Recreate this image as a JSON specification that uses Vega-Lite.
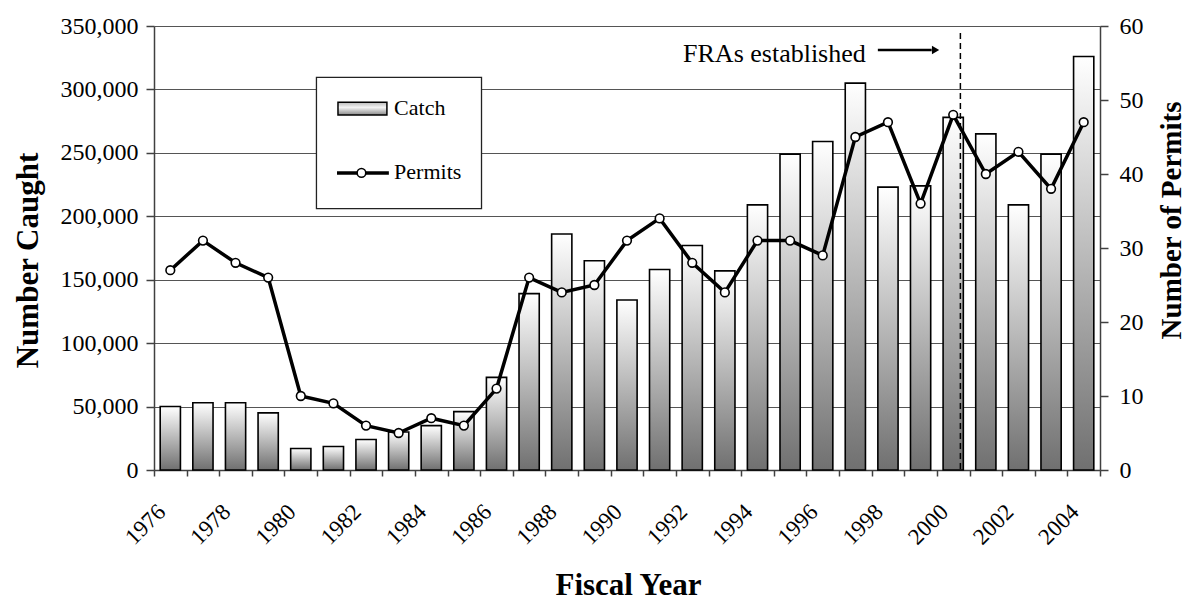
{
  "$schema": "https://vega.github.io/schema/vega-lite/v6.json",
  "width": 946,
  "height": 444,
  "autosize": {"type": "none"},
  "padding": {"left": 154, "top": 26, "right": 88, "bottom": 132},
  "background": "white",
  "config": {
    "view": {"stroke": null},
    "numberFormat": ",",
    "font": "Times New Roman, Liberation Serif, Tinos, DejaVu Serif, serif",
    "text": {"font": "Times New Roman, Liberation Serif, Tinos, DejaVu Serif, serif"},
    "axis": {
      "labelFont": "Times New Roman, Liberation Serif, Tinos, DejaVu Serif, serif",
      "titleFont": "Times New Roman, Liberation Serif, Tinos, DejaVu Serif, serif",
      "labelColor": "black",
      "titleColor": "black",
      "domainColor": "#404040",
      "tickColor": "#404040",
      "domainWidth": 1.5,
      "tickWidth": 1.5,
      "gridColor": "#555555",
      "gridWidth": 1
    }
  },
  "data": {
    "values": [
      {"year": 1976, "catch": 50000, "permits": 27},
      {"year": 1977, "catch": 53000, "permits": 31},
      {"year": 1978, "catch": 53000, "permits": 28},
      {"year": 1979, "catch": 45000, "permits": 26},
      {"year": 1980, "catch": 17000, "permits": 10},
      {"year": 1981, "catch": 18500, "permits": 9},
      {"year": 1982, "catch": 24000, "permits": 6},
      {"year": 1983, "catch": 30000, "permits": 5},
      {"year": 1984, "catch": 35000, "permits": 7},
      {"year": 1985, "catch": 46000, "permits": 6},
      {"year": 1986, "catch": 73000, "permits": 11},
      {"year": 1987, "catch": 139000, "permits": 26},
      {"year": 1988, "catch": 186000, "permits": 24},
      {"year": 1989, "catch": 165000, "permits": 25},
      {"year": 1990, "catch": 134000, "permits": 31},
      {"year": 1991, "catch": 158000, "permits": 34},
      {"year": 1992, "catch": 177000, "permits": 28},
      {"year": 1993, "catch": 157000, "permits": 24},
      {"year": 1994, "catch": 209000, "permits": 31},
      {"year": 1995, "catch": 249000, "permits": 31},
      {"year": 1996, "catch": 259000, "permits": 29},
      {"year": 1997, "catch": 305000, "permits": 45},
      {"year": 1998, "catch": 223000, "permits": 47},
      {"year": 1999, "catch": 224000, "permits": 36},
      {"year": 2000, "catch": 278000, "permits": 48},
      {"year": 2001, "catch": 265000, "permits": 40},
      {"year": 2002, "catch": 209000, "permits": 43},
      {"year": 2003, "catch": 249000, "permits": 38},
      {"year": 2004, "catch": 326000, "permits": 47}
    ]
  },
  "encoding": {
    "x": {
      "field": "year",
      "type": "ordinal",
      "scale": {"paddingInner": 0, "paddingOuter": 0},
      "axis": {
        "title": "Fiscal Year",
        "titleFontSize": 31,
        "titleFontWeight": "bold",
        "titleX": 474,
        "titleY": 124,
        "titleAlign": "center",
        "titleBaseline": "alphabetic",
        "labelAngle": -45,
        "labelAlign": "right",
        "labelBaseline": "middle",
        "labelFontSize": 23,
        "labelPadding": 32,
        "labelOffset": -9,
        "labelOverlap": false,
        "tickBand": "extent",
        "tickSize": 6,
        "labelExpr": "datum.value % 2 === 0 ? datum.label : ''",
        "grid": false
      }
    }
  },
  "layer": [
    {
      "layer": [
        {
          "mark": {
            "type": "bar",
            "width": {"band": 0.62},
            "stroke": "black",
            "strokeWidth": 1.6,
            "color": {
              "gradient": "linear",
              "x1": 0, "y1": 0, "x2": 0, "y2": 1,
              "stops": [
                {"offset": 0, "color": "#ffffff"},
                {"offset": 1, "color": "#707070"}
              ]
            }
          },
          "encoding": {
            "y": {
              "field": "catch",
              "type": "quantitative",
              "scale": {"domain": [0, 350000], "nice": false},
              "axis": {
                "title": "Number Caught",
                "titleFontSize": 31,
                "titleFontWeight": "bold",
                "titleX": -126,
                "titleY": 234,
                "titleAngle": 270,
                "titleAlign": "center",
                "titleBaseline": "middle",
                "values": [0, 50000, 100000, 150000, 200000, 250000, 300000, 350000],
                "format": ",",
                "labelExpr": "format(datum.value, ',')",
                "labelFontSize": 24,
                "tickSize": 8,
                "labelPadding": 8,
                "grid": true
              }
            }
          }
        },
        {
          "data": {"values": [{}]},
          "mark": {"type": "rule", "color": "black", "strokeWidth": 1.5, "strokeDash": [6, 4]},
          "encoding": {
            "x": {"datum": 2000, "bandPosition": 0.72},
            "y": {"datum": 344500, "type": "quantitative"},
            "y2": {"datum": 0}
          }
        },
        {
          "data": {"values": [{"label": "FRAs established"}]},
          "mark": {"type": "text", "align": "right", "baseline": "alphabetic", "fontSize": 26, "color": "black", "font": "Times New Roman, Liberation Serif, Tinos, DejaVu Serif, serif"},
          "encoding": {
            "x": {"datum": 1997, "bandPosition": 0.82},
            "y": {"datum": 321800, "type": "quantitative"},
            "text": {"field": "label"}
          }
        },
        {
          "data": {"values": [{}]},
          "mark": {"type": "rule", "color": "black", "strokeWidth": 2.5},
          "encoding": {
            "x": {"datum": 1998, "bandPosition": 0.19},
            "x2": {"datum": 1999, "bandPosition": 0.84},
            "y": {"datum": 331100, "type": "quantitative"}
          }
        },
        {
          "data": {"values": [{}]},
          "mark": {"type": "point", "shape": "triangle-right", "filled": true, "color": "black", "size": 70, "opacity": 1},
          "encoding": {
            "x": {"datum": 1999, "bandPosition": 0.96},
            "y": {"datum": 331100, "type": "quantitative"}
          }
        },
        {
          "data": {"values": [{}]},
          "mark": {"type": "rect", "fill": "white", "stroke": "#222222", "strokeWidth": 1.3},
          "encoding": {
            "x": {"datum": 1980, "bandPosition": 0.98},
            "x2": {"datum": 1986, "bandPosition": 0.04},
            "y": {"datum": 309500, "type": "quantitative"},
            "y2": {"datum": 206100}
          }
        },
        {
          "data": {"values": [{}]},
          "mark": {
            "type": "rect",
            "stroke": "black",
            "strokeWidth": 1.5,
            "fill": {
              "gradient": "linear",
              "x1": 0, "y1": 0, "x2": 0, "y2": 1,
              "stops": [
                {"offset": 0, "color": "#bbbbbb"},
                {"offset": 0.4, "color": "#f4f4f4"},
                {"offset": 1, "color": "#888888"}
              ]
            }
          },
          "encoding": {
            "x": {"datum": 1981, "bandPosition": 0.64},
            "x2": {"datum": 1983, "bandPosition": 0.14},
            "y": {"datum": 289800, "type": "quantitative"},
            "y2": {"datum": 279800}
          }
        },
        {
          "data": {"values": [{"label": "Catch"}]},
          "mark": {"type": "text", "align": "left", "baseline": "alphabetic", "fontSize": 22, "color": "black", "font": "Times New Roman, Liberation Serif, Tinos, DejaVu Serif, serif"},
          "encoding": {
            "x": {"datum": 1983, "bandPosition": 0.36},
            "y": {"datum": 279800, "type": "quantitative"},
            "text": {"field": "label"}
          }
        },
        {
          "data": {"values": [{}]},
          "mark": {"type": "rule", "color": "black", "strokeWidth": 3.5},
          "encoding": {
            "x": {"datum": 1981, "bandPosition": 0.61},
            "x2": {"datum": 1983, "bandPosition": 0.2},
            "y": {"datum": 234200, "type": "quantitative"}
          }
        },
        {
          "data": {"values": [{}]},
          "mark": {"type": "point", "shape": "circle", "filled": true, "fill": "white", "stroke": "black", "strokeWidth": 1.6, "size": 75, "opacity": 1},
          "encoding": {
            "x": {"datum": 1982, "bandPosition": 0.36},
            "y": {"datum": 234200, "type": "quantitative"}
          }
        },
        {
          "data": {"values": [{"label": "Permits"}]},
          "mark": {"type": "text", "align": "left", "baseline": "alphabetic", "fontSize": 22, "color": "black", "font": "Times New Roman, Liberation Serif, Tinos, DejaVu Serif, serif"},
          "encoding": {
            "x": {"datum": 1983, "bandPosition": 0.36},
            "y": {"datum": 229400, "type": "quantitative"},
            "text": {"field": "label"}
          }
        }
      ]
    },
    {
      "layer": [
        {
          "mark": {"type": "line", "color": "black", "strokeWidth": 3.5},
          "encoding": {
            "y": {
              "field": "permits",
              "type": "quantitative",
              "scale": {"domain": [0, 60], "nice": false},
              "axis": {
                "orient": "right",
                "title": "Number of Permits",
                "titleFontSize": 29,
                "titleFontWeight": "bold",
                "titleX": 71,
                "titleY": 194,
                "titleAngle": 270,
                "titleAlign": "center",
                "titleBaseline": "middle",
                "values": [0, 10, 20, 30, 40, 50, 60],
                "labelFontSize": 24,
                "tickSize": 8,
                "labelPadding": 11,
                "grid": false
              }
            }
          }
        },
        {
          "mark": {"type": "point", "shape": "circle", "filled": true, "fill": "white", "stroke": "black", "strokeWidth": 1.6, "size": 75, "opacity": 1},
          "encoding": {
            "y": {"field": "permits", "type": "quantitative"}
          }
        }
      ]
    }
  ],
  "resolve": {"scale": {"y": "independent"}}
}
